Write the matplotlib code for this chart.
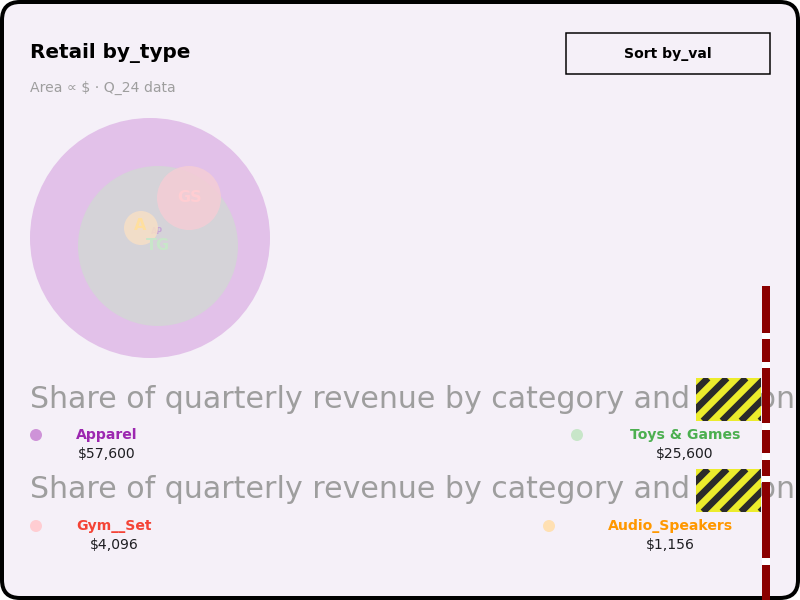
import matplotlib
matplotlib.use("Agg")
import matplotlib.pyplot as plt
from matplotlib.patches import Circle, Rectangle, FancyBboxPatch
import numpy as np

plt.rcParams['font.family'] = ['DejaVu Sans']
plt.rcParams['lines.scale_dashes'] = False

# data
names = ["Apparel", "Toys & Games", "Gym__Set", "Audio_Speakers"]
values = [57600, 25600, 4096, 1156]
codes = ["AP", "TG", "GS", "A"]
strong_colors = ["#9c27b0", "#4caf50", "#f44336", "#ff9800"]
dot_colors = ["#ce93d8", "#c8e6c9", "#ffcdd2", "#ffe0b2"]
circle_colors = ["#e2c1e9", "#d5d3d8", "#f4cdd5", "#f7dfc6"]
label_colors = ["#c7a6d6", "#c8e6c9", "#ffcdd2", "#ffdf9e"]

title = "Retail by_type"
subtitle = "Area \u221d $ \u00b7 Q_24 data"
button = "Sort by_val"
track_text = "Share of quarterly revenue by category and region"

PX = 0.72  # points per pixel at dpi 100

fig = plt.figure(figsize=(8, 6), dpi=100)
ax = fig.add_axes([0, 0, 1, 1])
ax.set_xlim(0, 800)
ax.set_ylim(600, 0)
ax.axis("off")

# card
card = FancyBboxPatch((2, 2), 796, 596, boxstyle="round,pad=0,rounding_size=18",
                      facecolor="#f5f0f8", edgecolor="black", linewidth=4 * PX, zorder=0)
ax.add_patch(card)

ax.text(30, 53, title, fontsize=20 * PX, fontweight="bold", color="black", va="center", ha="left")
ax.text(30, 88, subtitle, fontsize=14 * PX, color="#9e9e9e", va="center", ha="left")

ax.add_patch(Rectangle((566, 33), 204, 41, facecolor="none", edgecolor="black", linewidth=1.5 * PX))
ax.text(668, 54, button, fontsize=14 * PX, fontweight="bold", color="black", va="center", ha="center")

# circles, radius from value (area proportional)
scale = 120 / np.sqrt(max(values))
radii = [scale * np.sqrt(v) for v in values]
centers = [(150, 238), (158, 246), (189, 198), (141, 228)]
label_pos = [(157, 232), (158, 246), (190, 197), (140, 226)]
label_px = [8, 16, 16, 16]
circle_z = [1, 2, 3, 5]
label_z = [4, 7, 8, 6]
for i in range(len(values)):
    ax.add_patch(Circle(centers[i], radii[i], facecolor=circle_colors[i], edgecolor="none",
                        alpha=0.85 if i >= 2 else 1, zorder=circle_z[i]))
    ax.text(label_pos[i][0], label_pos[i][1], codes[i], fontsize=label_px[i] * PX,
            color=label_colors[i], ha="center", va="center", fontweight="bold", zorder=label_z[i])

# tracks (long gray text rows) with striped overflow markers
for y in [399, 490]:
    ax.text(30, y, track_text, fontsize=30 * PX, color="#9e9e9e", va="center", ha="left", zorder=10)
    box = Rectangle((696, y - 21), 65, 43, facecolor="#ecec2c", edgecolor="none", zorder=11)
    ax.add_patch(box)
    for off in np.arange(-50, 70, 19):
        stripe, = ax.plot([696 + off, 696 + off + 43], [y + 22, y - 21], color="#2a2a2a",
                          linewidth=4.8, solid_capstyle="butt", zorder=12)
        stripe.set_clip_path(box)

# legend
dot_xy = [(36, 435), (577, 435), (36, 526), (549, 526)]
text_cx = [107, 685, 114, 670]
for i in range(len(names)):
    dx, dy = dot_xy[i]
    ax.add_patch(Circle((dx, dy), 6, facecolor=dot_colors[i], edgecolor="none", zorder=13))
    ax.text(text_cx[i], dy, names[i], fontsize=14 * PX, fontweight="bold", color=strong_colors[i],
            ha="center", va="center", zorder=13)
    ax.text(text_cx[i], dy + 19, f"${values[i]:,}", fontsize=14 * PX, color="#1e1e22",
            ha="center", va="center", zorder=13)

# overflow marker line
dashes = (0, (47 * PX, 6 * PX, 23 * PX, 6 * PX, 55 * PX, 7 * PX, 23 * PX, 7 * PX,
              16 * PX, 6 * PX, 76 * PX, 7 * PX, 60 * PX, 7 * PX))
ax.plot([766, 766], [286, 600], color="#8b0000", linewidth=8 * PX, linestyle=dashes,
        gapcolor="white", solid_capstyle="butt", dash_capstyle="butt", zorder=20)

fig.savefig("out.png", dpi=100)
